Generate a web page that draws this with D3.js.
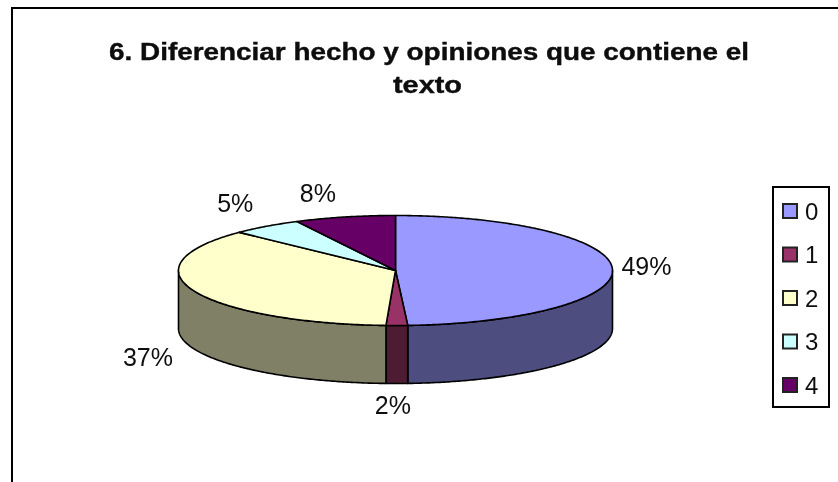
<!DOCTYPE html>
<html><head><meta charset="utf-8">
<script src="https://cdn.jsdelivr.net/npm/d3@7"></script>
<style>html,body{margin:0;padding:0;background:#fff}svg{display:block}text{font-family:"Liberation Sans",Arial,sans-serif;fill:#111}</style>
</head><body><svg id="c" width="838" height="482"></svg>
<script>
const categories = ["0","1","2","3","4"];
const values = [49.1,1.6,36.5,5.3,7.5];
const labels = ["49%","2%","37%","5%","8%"];
const topColors = ["#9999ff","#993366","#ffffcc","#ccffff","#660066"];
const sideColors = ["#4d4d80","#4d1a33","#808066","#668080","#330033"];
const titleLines = ["6. Diferenciar hecho y opiniones que contiene el","texto"];

const W=838,H=482,cx=395.5,cy=270.5,rx=217,ry=55,depth=58;
const svg=d3.select("#c");
const defs=svg.append("defs");
defs.append("filter").attr("id","soft").attr("x",0).attr("y",0).attr("width","100%").attr("height","100%")
  .append("feGaussianBlur").attr("stdDeviation",0.45);
const root=svg.append("g").attr("filter","url(#soft)");
root.append("rect").attr("width",W).attr("height",H).attr("fill","#fff");

// chart frame: top and left edges only reach the picture
root.append("path").attr("d",`M12 ${H}V8H${W}`).attr("fill","none").attr("stroke","#000").attr("stroke-width",2);

const titleLen=[640,69];
root.selectAll("text.title").data(titleLines).join("text").attr("class","title")
  .attr("x",(d,i)=>i?427.5:429).attr("y",(d,i)=>59.5+i*33.5)
  .attr("text-anchor","middle").attr("font-weight","bold").attr("font-size",23)
  .attr("textLength",(d,i)=>titleLen[i]).attr("lengthAdjust","spacingAndGlyphs")
  .attr("stroke","#000").attr("stroke-width",0.35).text(d=>d);

const arcs=d3.pie().sort(null).value(d=>d)(values);
const px=a=>cx+rx*Math.sin(a), py=a=>cy-ry*Math.cos(a);
const line=d3.line().curve(d3.curveLinear);
const samples=(a0,a1)=>{const n=Math.max(2,Math.ceil((a1-a0)/0.01));return d3.range(n+1).map(i=>a0+(a1-a0)*i/n)};

// side walls: only the part of each slice facing the viewer
const HALF=Math.PI/2, BACK=3*Math.PI/2;
const g=root.append("g").attr("stroke","#000").attr("stroke-width",1.6).attr("stroke-linejoin","round");
arcs.forEach((a,i)=>{
  const a0=Math.max(a.startAngle,HALF), a1=Math.min(a.endAngle,BACK);
  if(a1<=a0) return;
  const s=samples(a0,a1);
  const pts=s.map(t=>[px(t),py(t)]).concat(s.slice().reverse().map(t=>[px(t),py(t)+depth]));
  g.append("path").attr("d",line(pts)+"Z").attr("fill",sideColors[i]);
});
// top slices
arcs.forEach((a,i)=>{
  const pts=[[cx,cy]].concat(samples(a.startAngle,a.endAngle).map(t=>[px(t),py(t)]));
  g.append("path").attr("d",line(pts)+"Z").attr("fill",topColors[i]);
});

// percentage labels placed from the mid-angle of each slice
const nudges=[[34,-3],[-4,22],[-46,8],[-31,-23],[-27,-24]];
root.selectAll("text.lab").data(arcs).join("text").attr("class","lab")
  .attr("x",(d,i)=>px((d.startAngle+d.endAngle)/2)+nudges[i][0])
  .attr("y",(d,i)=>{const m=(d.startAngle+d.endAngle)/2;return py(m)+(Math.cos(m)<0?depth:0)+nudges[i][1]})
  .attr("text-anchor","middle").attr("dominant-baseline","central").attr("font-size",25).text((d,i)=>labels[i]);

// legend
const lg=root.append("g");
lg.append("rect").attr("x",773).attr("y",187).attr("width",56).attr("height",220).attr("fill","#fff").attr("stroke","#000").attr("stroke-width",2);
const ly=d3.scalePoint().domain(categories).range([211,385]);
lg.selectAll("rect.k").data(categories).join("rect").attr("class","k")
  .attr("x",783).attr("y",d=>ly(d)-7).attr("width",14).attr("height",14)
  .attr("fill",(d,i)=>topColors[i]).attr("stroke","#222").attr("stroke-width",2);
lg.selectAll("text").data(categories).join("text").attr("x",805).attr("y",d=>ly(d))
  .attr("dominant-baseline","central").attr("font-size",24).text(d=>d);
</script></body></html>
